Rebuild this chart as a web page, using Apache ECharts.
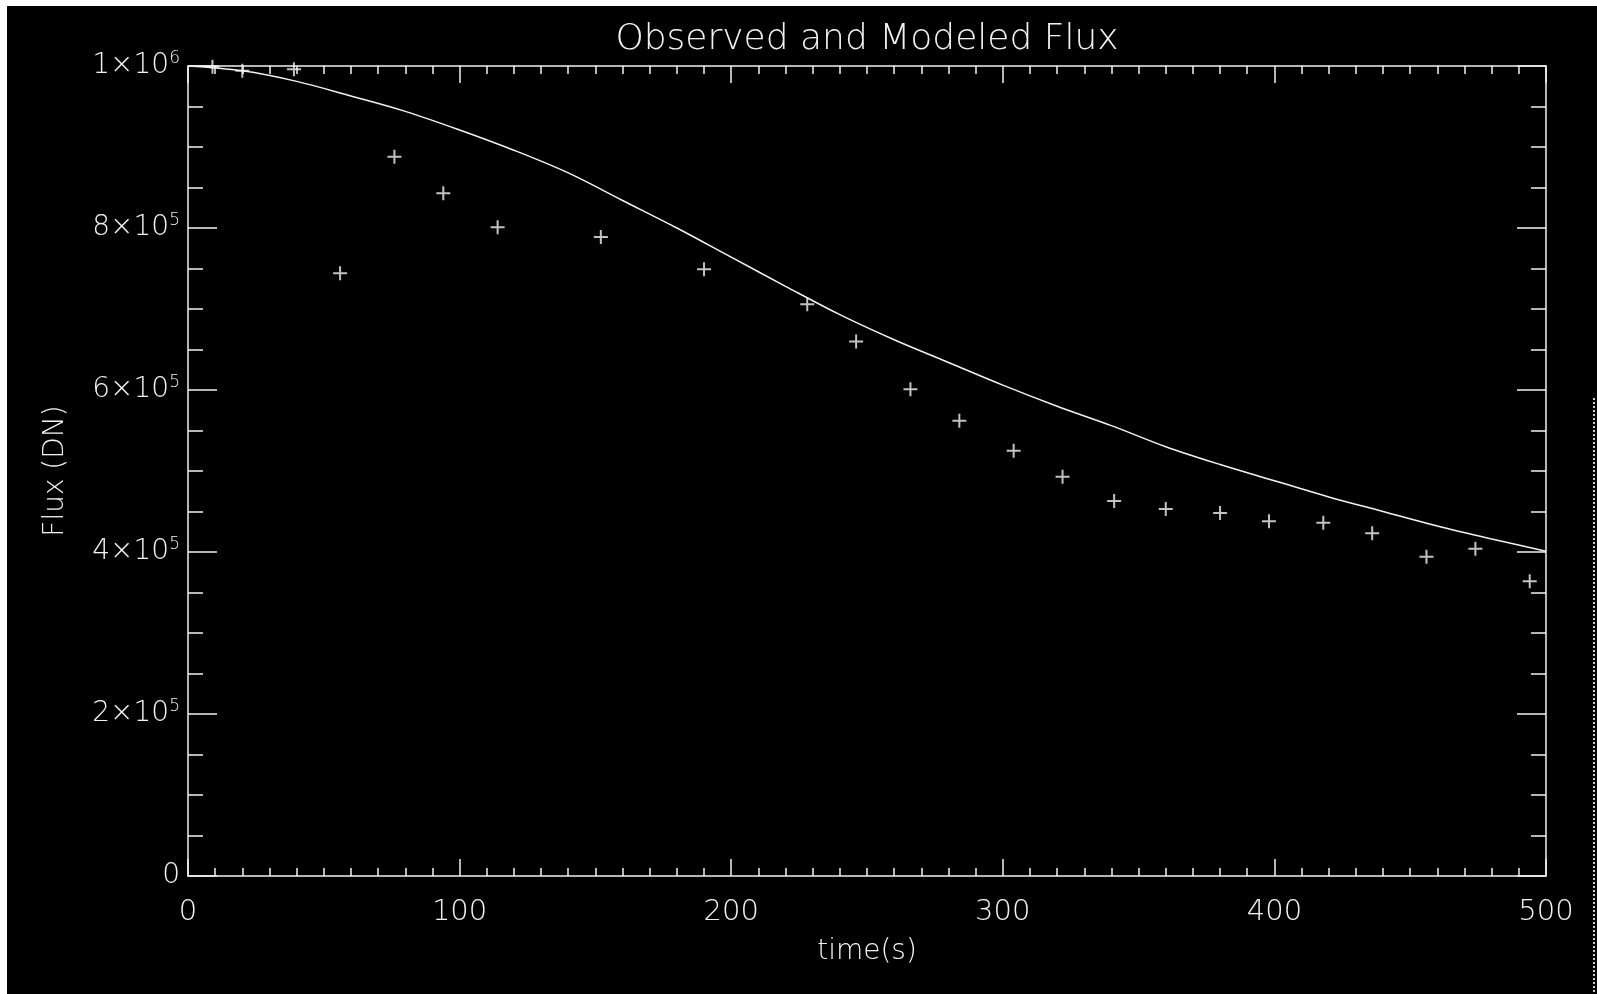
<!DOCTYPE html>
<html lang="en">
<head>
    <meta charset="utf-8">
    <title>Observed and Modeled Flux</title>
    <script src="https://cdn.jsdelivr.net/npm/echarts@6/dist/echarts.min.js"></script>
    <style type="text/css">
        html, body {
            margin: 0;
            padding: 0;
            background: #ffffff;
            overflow: hidden;
        }

        #main {
            position: absolute;
            left: 7px;
            top: 6px;
            width: 1590px;
            height: 988px;
            background: #000000;
        }
    </style>
</head>
<body>
<div id="main"></div>

<script type="text/javascript">
    // observed points (time in s, flux in DN)
    var obsTime = [9, 20, 39, 56, 76, 94, 114, 152, 190, 228, 246, 266, 284, 304, 322, 341, 360, 380, 398, 418, 436, 456, 474, 494];
    var obsFlux = [999000, 994000, 996000, 744000, 888000, 843000, 801000, 789000, 749000, 706000, 660000, 601000,
        562000, 525000, 493000, 463000, 453000, 448000, 438000, 436000, 423000, 394000, 404000, 364000];

    // modeled curve, read every 20 s
    var modelTime = [0, 20, 40, 60, 80, 100, 120, 140, 160, 180, 200, 220, 240, 260, 280, 300, 320, 340, 360, 380, 400, 420, 440, 460, 480, 500];
    var modelFlux = [1000000, 994000, 981000, 963000, 944000, 921000, 896000, 868000, 834000, 800000, 764000, 728000,
        693000, 662000, 634000, 606000, 580000, 556000, 530000, 508000, 488000, 468000, 450000, 432000, 416000, 401000];

    var xTicks = [0, 100, 200, 300, 400, 500];
    var yTicks = [0, 200000, 400000, 600000, 800000, 1000000];

    var fg = '#f2f2f2';
    var font = '"DejaVu Sans", sans-serif';
    var plus = 'path://M6,0h2v6h6v2h-6v6h-2v-6h-6v-2h6z';

    function pairs(xs, ys) {
        var out = [];
        for (var i = 0; i < xs.length; i++) out.push([xs[i], ys[i]]);
        return out;
    }

    function yLabel(v) {
        if (v === 0) return '{b|0}';
        var e = Math.floor(Math.log10(v) + 1e-9);
        var m = Math.round(v / Math.pow(10, e));
        return '{b|' + m + '×10}{s|' + e + '}';
    }

    function xAxisOf(pos, labels) {
        return {
            type: 'value', position: pos, gridIndex: 0,
            min: xTicks[0], max: xTicks[xTicks.length - 1], interval: xTicks[1] - xTicks[0],
            name: labels ? 'time(s)' : '', nameLocation: 'middle', nameGap: 62,
            nameTextStyle: {color: fg, fontFamily: font, fontWeight: 200, fontSize: 28},
            axisLine: {show: true, onZero: false, lineStyle: {color: fg, width: 1.5}},
            axisTick: {show: true, inside: true, length: 17, lineStyle: {color: fg, width: 1.5}},
            minorTick: {show: true, splitNumber: 10, length: 8, lineStyle: {color: fg, width: 1.5}},
            axisLabel: {show: labels, margin: 22, color: fg, fontFamily: font, fontWeight: 200, fontSize: 29},
            splitLine: {show: false}
        };
    }

    function yAxisOf(pos, labels) {
        return {
            type: 'value', position: pos, gridIndex: 0,
            min: yTicks[0], max: yTicks[yTicks.length - 1], interval: yTicks[1] - yTicks[0],
            name: labels ? 'Flux (DN)' : '', nameLocation: 'middle', nameGap: 118, nameRotate: 90,
            nameTextStyle: {color: fg, fontFamily: font, fontWeight: 200, fontSize: 28},
            axisLine: {show: true, onZero: false, lineStyle: {color: fg, width: 1.5}},
            axisTick: {show: true, inside: true, length: 29, lineStyle: {color: fg, width: 1.5}},
            minorTick: {show: true, splitNumber: 4, length: 15, lineStyle: {color: fg, width: 1.5}},
            axisLabel: {
                show: labels, margin: 8, formatter: yLabel,
                rich: {
                    b: {color: fg, fontFamily: font, fontWeight: 200, fontSize: 28, lineHeight: 32},
                    s: {color: fg, fontFamily: font, fontWeight: 200, fontSize: 17, verticalAlign: 'top'}
                }
            },
            splitLine: {show: false}
        };
    }

    var myChart = echarts.init(document.getElementById('main'), null, {renderer: 'canvas'});
    var option = {
        backgroundColor: '#000000',
        animation: false,
        title: {
            text: 'Observed and Modeled Flux',
            left: 860, top: 16, padding: 0, textAlign: 'center',
            textStyle: {color: fg, fontFamily: font, fontWeight: 200, fontSize: 36}
        },
        grid: {left: 181, top: 60, right: 51, bottom: 118, containLabel: false, outerBoundsMode: 'none'},
        xAxis: [xAxisOf('bottom', true), xAxisOf('top', false)],
        yAxis: [yAxisOf('left', true), yAxisOf('right', false)],
        graphic: [{
            type: 'line', silent: true,
            shape: {x1: 1587, y1: 392, x2: 1587, y2: 988},
            style: {stroke: '#cfcfcf', lineWidth: 2, lineDash: [2, 2]}
        }],
        series: [{
            name: 'model', type: 'line',
            xAxisIndex: 0, yAxisIndex: 0,
            data: pairs(modelTime, modelFlux),
            smooth: 0.35, showSymbol: false,
            lineStyle: {color: fg, width: 1.5}
        }, {
            name: 'observed', type: 'scatter',
            xAxisIndex: 0, yAxisIndex: 0,
            data: pairs(obsTime, obsFlux),
            symbol: plus, symbolSize: 14,
            itemStyle: {color: fg}
        }]
    };
    myChart.setOption(option);
</script>
</body>
</html>
